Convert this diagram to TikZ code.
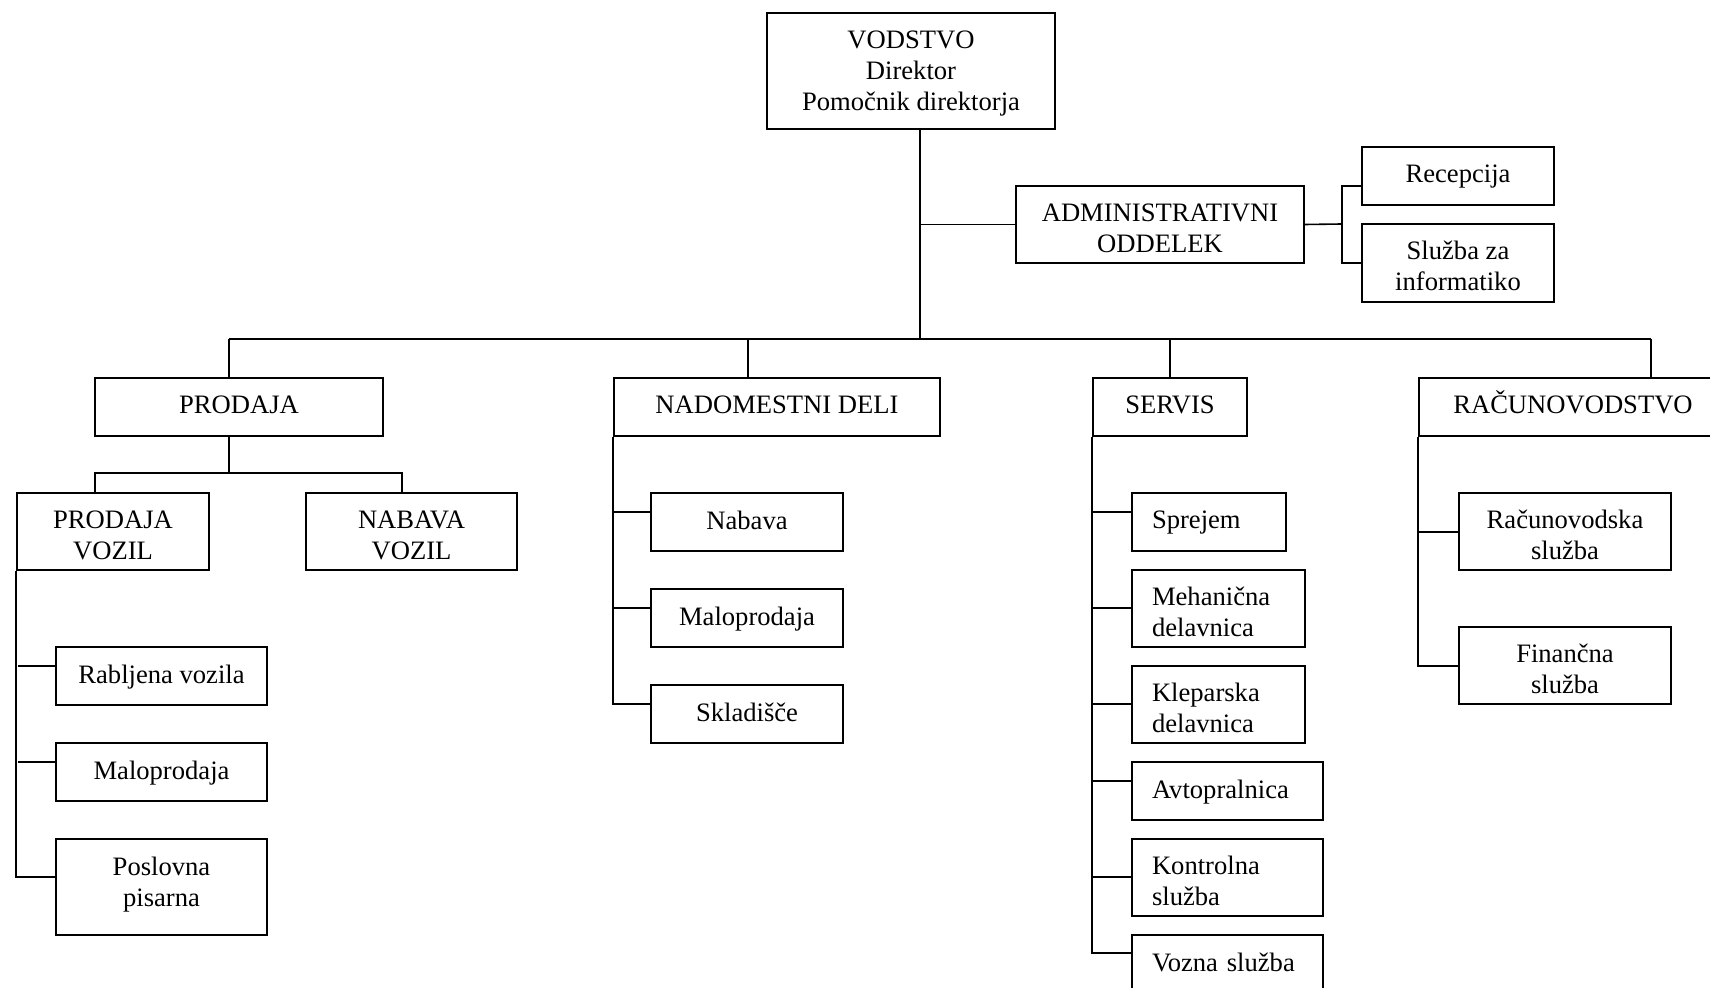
\documentclass[tikz,border=0pt]{standalone}
\usepackage{fontspec}
\setmainfont{Liberation Serif}
\begin{document}
\begin{tikzpicture}[x=0.5pt,y=-0.5pt,
  every node/.style={font=\fontsize{13.3}{15.5}\selectfont},
  box/.style={draw, line width=0.8pt, rectangle, inner sep=0pt, align=center, text depth=0pt},
  oneline/.style={box, text depth=2pt},
  twoline/.style={box, text height=28pt, text depth=0pt},
  lbox/.style={draw, line width=0.8pt, rectangle, inner xsep=10pt, inner ysep=0pt, align=left},
  lone/.style={lbox, text depth=2pt},
  ltwo/.style={lbox, text depth=12.3pt},
  conn/.style={line width=0.8pt}]
\useasboundingbox (0,0) rectangle (1710,988);
\clip (0,0) rectangle (1710,988);
% top
\node[box, minimum width=144pt, minimum height=58pt] (vod) at (911,71) {VODSTVO\\Direktor\\Pomočnik direktorja};
\node[twoline, minimum width=144pt, minimum height=38.5pt] (adm) at (1160,224.5) {ADMINISTRATIVNI\\ODDELEK};
\node[oneline, minimum width=96pt, minimum height=29pt] (rec) at (1458,176) {Recepcija};
\node[twoline, minimum width=96pt, minimum height=39pt] (inf) at (1458,263) {Služba za\\informatiko};
% level 2
\node[oneline, minimum width=144pt, minimum height=29pt] (pro) at (239,407) {PRODAJA};
\node[oneline, minimum width=163pt, minimum height=29pt] (nad) at (777,407) {NADOMESTNI DELI};
\node[oneline, minimum width=77pt, minimum height=29pt] (ser) at (1170,407) {SERVIS};
\node[box, minimum width=154pt, minimum height=29pt, text height=0.66em] (rac) at (1573,407) {RAČUNOVODSTVO};
% prodaja
\node[twoline, minimum width=96pt, minimum height=38.5pt] (pv) at (113,531.5) {PRODAJA\\VOZIL};
\node[twoline, minimum width=105.5pt, minimum height=38.5pt] (nv) at (411.5,531.5) {NABAVA\\VOZIL};
\node[oneline, minimum width=105.5pt, minimum height=29pt] (rab) at (161.5,676) {Rabljena vozila};
\node[oneline, minimum width=105.5pt, minimum height=29pt] (mal1) at (161.5,772) {Maloprodaja};
\node[box, text depth=5.5pt, minimum width=105.5pt, minimum height=48pt] (pos) at (161.5,887) {Poslovna\\pisarna};
% nadomestni deli
\node[oneline, minimum width=96pt, minimum height=29pt] (nab) at (747,522) {Nabava};
\node[oneline, minimum width=96pt, minimum height=29pt] (mal2) at (747,618) {Maloprodaja};
\node[oneline, minimum width=96pt, minimum height=29pt] (skl) at (747,714) {Skladišče};
% servis
\node[lone, text width=57pt, minimum height=29pt] (spr) at (1209,522) {Sprejem};
\node[ltwo, text width=66.5pt, minimum height=38.5pt] (meh) at (1218.5,608.5) {Mehanična\\delavnica};
\node[ltwo, text width=66.5pt, minimum height=38.5pt] (kle) at (1218.5,704.5) {Kleparska\\delavnica};
\node[lone, text width=75.5pt, minimum height=29pt] (avt) at (1227.5,791) {Avtopralnica};
\node[ltwo, text width=75.5pt, minimum height=38.5pt] (kon) at (1227.5,877.5) {Kontrolna\\služba};
\node[lone, text width=75.5pt, minimum height=29pt] (voz) at (1227.5,964) {Vozna služba};
% racunovodstvo
\node[twoline, minimum width=106pt, minimum height=38.5pt] (rcs) at (1565,531.5) {Računovodska\\služba};
\node[twoline, minimum width=106pt, minimum height=38.5pt] (fin) at (1565,665.5) {Finančna\\služba};
% connectors
\coordinate (trunk) at (920,339);
\coordinate (busL) at (229,339);
\coordinate (busR) at (1651,339);
\coordinate (admj) at (1342,224);
\draw[conn] (trunk |- vod.south) -- (trunk);
\draw[conn] (busL) -- (busR);
\draw[conn] (trunk |- adm.west) -- (adm.west);
\draw[conn] (adm.east) -- (admj);
\draw[conn] (rec.west |- 0,186) -| (admj |- 0,186) -- (admj |- 0,263) -- (inf.west |- 0,263);
\draw[conn] (busL) -- (busL |- pro.north);
\draw[conn] (nad.north -| 748,0) -- (748,339);
\draw[conn] (ser.north -| 1170,0) -- (1170,339);
\draw[conn] (busR) -- (busR |- rac.north);
% prodaja subtree
\coordinate (pj) at (229,473);
\draw[conn] (pj |- pro.south) -- (pj);
\draw[conn] (pv.north -| 95,0) |- (402,473) -- (nv.north -| 402,0);
\draw[conn] (pv.south west) |- (pos.west |- 0,877);
\draw[conn] (rab.west |- 0,666) -- (17.5,666);
\draw[conn] (mal1.west |- 0,762) -- (17.5,762);
% nadomestni subtree
\draw[conn] (nad.south west) |- (skl.west |- 0,704);
\draw[conn] (nab.west |- 0,512) -- (614,512);
\draw[conn] (mal2.west |- 0,608) -- (614,608);
% servis subtree
\draw[conn] (ser.south west) |- (voz.west |- 0,953);
\draw[conn] (spr.west |- 0,512) -- (1093,512);
\draw[conn] (meh.west |- 0,608) -- (1093,608);
\draw[conn] (kle.west |- 0,704) -- (1093,704);
\draw[conn] (avt.west |- 0,781) -- (1093,781);
\draw[conn] (kon.west |- 0,877) -- (1093,877);
% racunovodstvo subtree
\draw[conn] (rac.south west) |- (fin.west |- 0,666);
\draw[conn] (rcs.west |- 0,532) -- (1419,532);
\end{tikzpicture}
\end{document}
